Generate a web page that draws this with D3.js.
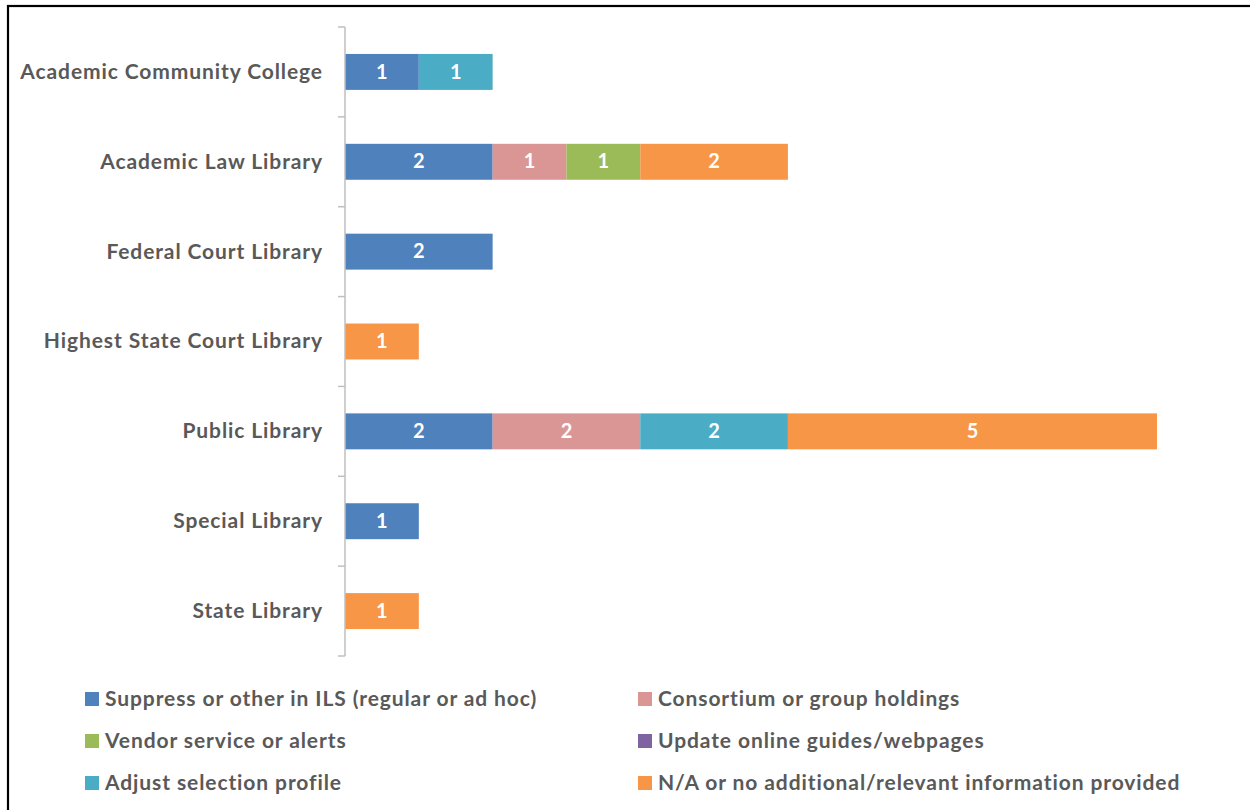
<!DOCTYPE html>
<html><head><meta charset="utf-8">
<script src="https://cdn.jsdelivr.net/npm/d3@7"></script>
<style>body{margin:0;background:#fff}</style>
</head><body>
<svg id="c" width="1250" height="810"></svg>
<script>
const categories = ["Academic Community College","Academic Law Library","Federal Court Library","Highest State Court Library","Public Library","Special Library","State Library"];
const seriesNames = ["Suppress or other in ILS (regular or ad hoc)","Consortium or group holdings","Vendor service or alerts","Update online guides/webpages","Adjust selection profile","N/A or no additional/relevant information provided"];
const suppress    = [1,2,2,0,2,1,0];
const consortium  = [0,1,0,0,2,0,0];
const vendor      = [0,1,0,0,0,0,0];
const updateGuides= [0,0,0,0,0,0,0];
const adjust      = [1,0,0,0,2,0,0];
const na          = [0,2,0,1,5,0,1];
const colors = ["#4F81BD","#DA9694","#9BBB59","#8064A2","#4BACC6","#F79646"];

const seriesVals = [suppress,consortium,vendor,updateGuides,adjust,na];
const table = categories.map((c,i)=>{const o={cat:c}; seriesNames.forEach((s,j)=>o[s]=seriesVals[j][i]); return o;});
const stack = d3.stack().keys(seriesNames)(table);

const svg = d3.select("#c");
const font = "Lato, 'Open Sans', sans-serif";
// frame
svg.append("rect").attr("x",8).attr("y",6).attr("width",1260).attr("height",820)
  .attr("fill","none").attr("stroke","#000").attr("stroke-width",2.2);

const x = d3.scaleLinear().domain([0,11]).range([345,1157]);
const y = d3.scaleBand().domain(categories).range([27,656]).paddingInner(0.6).paddingOuter(0.3);

// bars
const g = svg.append("g");
stack.forEach((layer,j)=>{
  layer.forEach((d,i)=>{
    if(d[1]-d[0]<=0) return;
    const cat = categories[i];
    g.append("rect").attr("x",x(d[0])).attr("y",y(cat)).attr("width",x(d[1])-x(d[0])).attr("height",y.bandwidth())
      .attr("fill",colors[j]);
    g.append("text").attr("x",(x(d[0])+x(d[1]))/2).attr("y",y(cat)+y.bandwidth()/2+1.5)
      .attr("text-anchor","middle").attr("dominant-baseline","middle")
      .attr("fill","#fff").attr("font-family",font).attr("font-weight","bold").attr("font-size",20)
      .text(d[1]-d[0]);
  });
});

// axis
const ax = svg.append("g");
ax.append("line").attr("x1",345).attr("x2",345).attr("y1",27).attr("y2",656).attr("stroke","#bfbfbf").attr("stroke-width",1.5);
const step = (656-27)/categories.length;
d3.range(categories.length+1).forEach(k=>{
  ax.append("line").attr("x1",338).attr("x2",345).attr("y1",27+k*step).attr("y2",27+k*step).attr("stroke","#bfbfbf").attr("stroke-width",1.5);
});
categories.forEach(c=>{
  ax.append("text").attr("x",323).attr("y",y(c)+y.bandwidth()/2+1.5).attr("text-anchor","end").attr("dominant-baseline","middle")
    .attr("fill","#595959").attr("font-family",font).attr("font-weight","bold").attr("font-size",21)
    .attr("letter-spacing","0.9px").text(c);
});

// legend
const leg = svg.append("g");
seriesNames.forEach((s,j)=>{
  const col = j%2, row = Math.floor(j/2);
  const sx = col===0?85:638, cy = 699+row*42;
  leg.append("rect").attr("x",sx).attr("y",cy-7).attr("width",14).attr("height",14).attr("fill",colors[j]);
  leg.append("text").attr("x",sx+20).attr("y",cy+1.5).attr("dominant-baseline","middle")
    .attr("fill","#595959").attr("font-family",font).attr("font-weight","bold").attr("font-size",21)
    .attr("letter-spacing","0.9px").text(s);
});
</script>
</body></html>
